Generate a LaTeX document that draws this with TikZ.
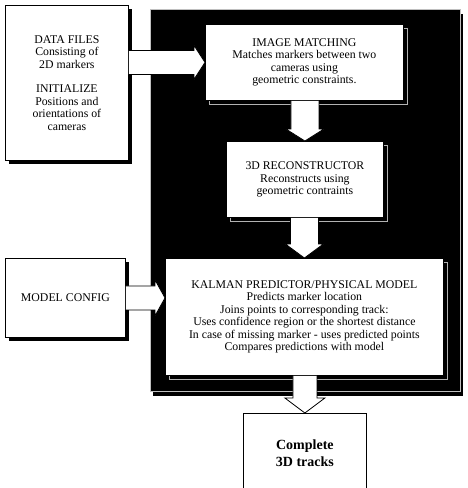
\documentclass[tikz,border=0pt]{standalone}
\usepackage{fontspec}
\setmainfont{Liberation Serif}
\usetikzlibrary{calc,shadows}

\begin{document}
\begin{tikzpicture}[x=1pt,y=-1pt,
  txt/.style={font=\fontsize{11.8}{12.4}\selectfont, align=center},
  outbox/.style={draw, fill=white, line width=0.8pt, inner sep=0pt, anchor=north west, txt,
    drop shadow={shadow xshift=3.5pt, shadow yshift=-3.5pt, fill=black, opacity=1}},
  inbox/.style={draw, fill=white, line width=0.8pt, inner sep=0pt, anchor=north west, txt,
    drop shadow={shadow xshift=4pt, shadow yshift=-4pt, fill=black, draw=white!70!black, line width=0.5pt, opacity=1}},
  blockarrow/.style={draw, fill=white, line width=0.8pt, line join=miter}]

\useasboundingbox (0,0) rectangle (467,488);
\clip (0,0) rectangle (467,488);

\draw[draw=white!75!black, fill=black, line width=0.6pt,
  drop shadow={shadow xshift=3pt, shadow yshift=-4.5pt, fill=black, opacity=1}] (150,9) rectangle (460,391);

\node[outbox, minimum width=123pt, minimum height=155pt] (data) at (5,5)
  {DATA FILES\\Consisting of\\2D markers\\[12.4pt]INITIALIZE\\Positions and\\orientations of\\cameras};
\node[outbox, minimum width=120pt, minimum height=79pt] (model) at (5,258) {MODEL CONFIG};

\node[inbox, minimum width=198pt, minimum height=76pt] (im) at (205,24)
  {IMAGE MATCHING\\Matches markers between two\\cameras using\\geometric constraints.};
\node[inbox, minimum width=157pt, minimum height=76pt] (rec) at (226,141)
  {3D RECONSTRUCTOR\\Reconstructs using\\geometric contraints};
\node[inbox, minimum width=278pt, minimum height=117pt] (kal) at (165,258)
  {KALMAN PREDICTOR/PHYSICAL MODEL\\Predicts marker location\\Joins points to corresponding track:\\Uses confidence region or the shortest distance\\In case of missing marker - uses predicted points\\Compares predictions with model};

\node[draw, fill=white, line width=0.8pt, inner sep=0pt, anchor=north west, align=center,
  minimum width=123pt, minimum height=79pt, font=\fontsize{14}{17}\selectfont\bfseries] (out) at (243,413)
  {Complete\\3D tracks};

% arrows
\draw[blockarrow] ($(data.east|-im.west)+(0,-12)$) -- ($(im.west)+(-11,-12)$) -- ($(im.west)+(-11,-17)$) -- (im.west)
  -- ($(im.west)+(-11,17)$) -- ($(im.west)+(-11,12)$) -- ($(data.east|-im.west)+(0,12)$);
\draw[blockarrow] ($(model.east)+(0,-12)$) -- ($(kal.west|-model.east)+(-10,-12)$) -- ($(kal.west|-model.east)+(-10,-18)$) -- (kal.west|-model.east)
  -- ($(kal.west|-model.east)+(-10,18)$) -- ($(kal.west|-model.east)+(-10,12)$) -- ($(model.east)+(0,12)$);
\draw[blockarrow] ($(im.south-|rec.north)+(-14,0)$) -- ($(rec.north)+(-14,-12)$) -- ($(rec.north)+(-19,-12)$) -- (rec.north)
  -- ($(rec.north)+(19,-12)$) -- ($(rec.north)+(14,-12)$) -- ($(im.south-|rec.north)+(14,0)$);
\draw[blockarrow] ($(rec.south-|kal.north)+(-14,0)$) -- ($(kal.north)+(-14,-14)$) -- ($(kal.north)+(-19,-14)$) -- (kal.north)
  -- ($(kal.north)+(19,-14)$) -- ($(kal.north)+(14,-14)$) -- ($(rec.south-|kal.north)+(14,0)$);
\draw[blockarrow] ($(kal.south-|out.north)+(-12,0)$) -- ($(out.north)+(-12,-15)$) -- ($(out.north)+(-20,-15)$) -- (out.north)
  -- ($(out.north)+(20,-15)$) -- ($(out.north)+(12,-15)$) -- ($(kal.south-|out.north)+(12,0)$);
\end{tikzpicture}
\end{document}
